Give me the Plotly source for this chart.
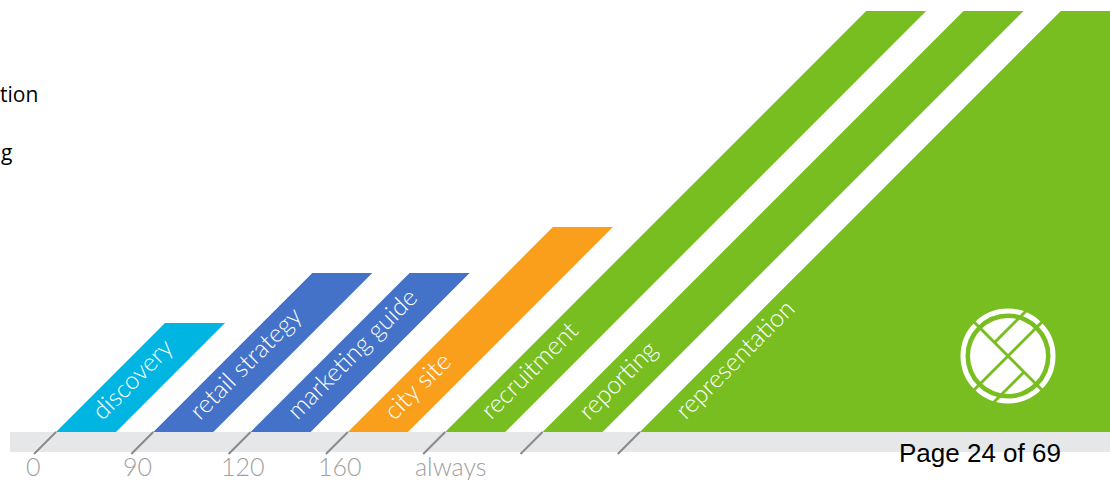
import plotly.graph_objects as go

# ---- data ----
categories = ["discovery", "retail strategy", "marketing guide", "city site",
              "recruitment", "reporting", "representation"]
values = [109, 159, 159, 205, 421, 421, 421]
tick_labels = ["0", "90", "120", "160", "always", "", ""]
bar_colors = ["#00B5E2", "#4472C8", "#4472C8", "#F99F1C",
              "#78BE20", "#78BE20", "#78BE20"]

# ---- layout constants ----
W, H = 1110, 480
BASE = 432            # pixel row of the baseline
X0, STEP, BAR_W = 56, 97.3, 60
LABEL_FONT = dict(family="Lato, Roboto, sans-serif", size=25, color="white", weight=300)
TICK_FONT = dict(family="Lato, Roboto, sans-serif", size=25, color="#A0A0A0", weight=300)

fig = go.Figure()
shapes = []
annotations = []

# grey band under the bars
shapes.append(dict(type="rect", xref="x", yref="y", x0=10, x1=W + 5, y0=-20, y1=0,
                   fillcolor="#E6E7E8", line=dict(width=0), layer="below"))

n = len(categories)
for i, (cat, val, col) in enumerate(zip(categories, values, bar_colors)):
    x0 = X0 + i * STEP
    right = x0 + BAR_W if i < n - 1 else W + 20
    xs = [x0, right, right + val, x0 + val, x0]
    ys = [0, 0, val, val, 0]
    fig.add_trace(go.Scatter(x=xs, y=ys, fill="toself", fillcolor=col, mode="lines",
                             line=dict(width=0, color=col), hoverinfo="skip",
                             showlegend=False))
    annotations.append(dict(x=x0 + 26, y=5, xref="x", yref="y", text=cat,
                            showarrow=False, xanchor="left", yanchor="bottom",
                            textangle=-45, font=LABEL_FONT))
    # tick slash
    shapes.append(dict(type="line", xref="x", yref="y", x0=x0 - 22, y0=-22, x1=x0, y1=0,
                       line=dict(color="#8A8A8A", width=2), layer="above"))
    if tick_labels[i]:
        annotations.append(dict(x=x0 - 32, y=-34, xref="x", yref="y", text=tick_labels[i],
                                showarrow=False, xanchor="left", yanchor="middle",
                                font=TICK_FONT))

# logo (white ring with an X)
cx, cy = 1008, BASE - 356
shapes.append(dict(type="circle", xref="x", yref="y", x0=cx - 45, x1=cx + 45,
                   y0=cy - 45, y1=cy + 45, line=dict(color="white", width=5)))
shapes.append(dict(type="circle", xref="x", yref="y", x0=cx - 38, x1=cx + 38,
                   y0=cy - 38, y1=cy + 38, fillcolor="white", line=dict(width=0)))
green = "#78BE20"
for (ax, ay, bx, by) in [(-38, -38, 38, 38), (-38, 38, 38, -38),
                         (-13.5, -13.5, 20, -47), (16, 16, -15, 47)]:
    shapes.append(dict(type="line", xref="x", yref="y", x0=cx + ax, y0=cy - ay,
                       x1=cx + bx, y1=cy - by, line=dict(color=green, width=3)))

# page footer and clipped document text
annotations.append(dict(x=980, y=-21, xref="x", yref="y", text="Page 24 of 69",
                        showarrow=False, xanchor="center", yanchor="middle",
                        font=dict(family="Liberation Sans, Arial", size=26, color="black")))
annotations.append(dict(x=40, y=BASE - 94, xref="x", yref="y", text="tion",
                        showarrow=False, xanchor="right", yanchor="middle",
                        font=dict(family="Open Sans, Noto Sans", size=21, color="black")))
annotations.append(dict(x=14, y=BASE - 152, xref="x", yref="y", text="g",
                        showarrow=False, xanchor="right", yanchor="middle",
                        font=dict(family="Open Sans, Noto Sans", size=21, color="black")))

fig.update_layout(
    width=W, height=H, margin=dict(l=0, r=0, t=0, b=0),
    paper_bgcolor="white", plot_bgcolor="white", showlegend=False,
    xaxis=dict(range=[0, W], visible=False, fixedrange=True),
    yaxis=dict(range=[BASE - H, BASE], visible=False, fixedrange=True),
    shapes=shapes, annotations=annotations,
)

fig.write_html("out.html", config={"displayModeBar": False},
               post_script="document.body.style.margin='0';")
